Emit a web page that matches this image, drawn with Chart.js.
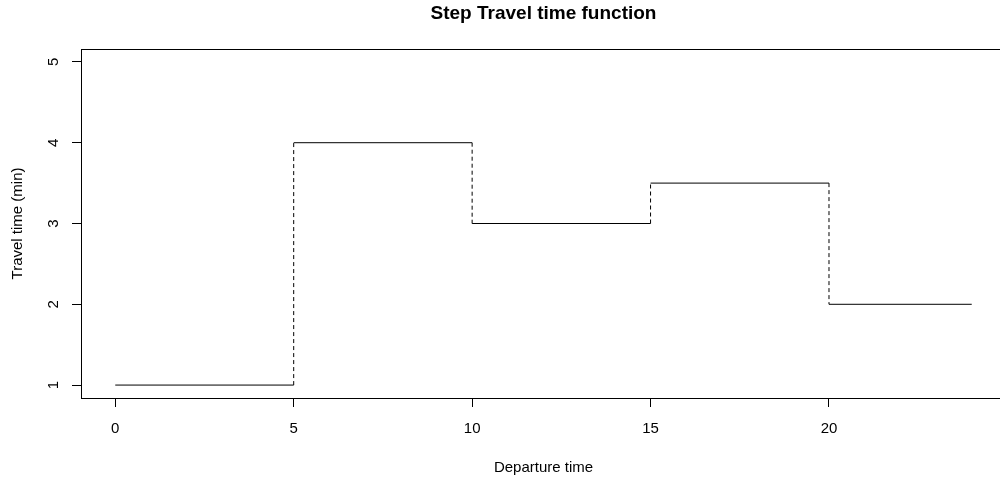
<!DOCTYPE html>
<html>
<head>
<meta charset="utf-8">
<script src="https://cdn.jsdelivr.net/npm/chart.js@4"></script>
<style>
    html, body { margin: 0; padding: 0; background: #fff; overflow: hidden; }
    #wrap { width: 1010px; height: 477px; }
</style>
</head>
<body>
<div id="wrap"><canvas id="stepChart" width="1010" height="477"></canvas></div>
<script>
// step function: value on [start, end)
const stepStarts = [0, 5, 10, 15, 20];
const stepEnds = [5, 10, 15, 20, 24];
const travelTimes = [1, 4, 3, 3.5, 2];

const xTicks = [0, 5, 10, 15, 20];
const yTicks = [1, 2, 3, 4, 5];

const FONT = "'Liberation Sans', Arial, sans-serif";

document.addEventListener('DOMContentLoaded', () => {
    // solid horizontal pieces, split by null gaps
    const flats = [];
    stepStarts.forEach((s, i) => {
        flats.push({ x: s, y: travelTimes[i] });
        flats.push({ x: stepEnds[i], y: travelTimes[i] });
        flats.push({ x: stepEnds[i], y: null });
    });
    // dashed vertical jumps
    const jumps = [];
    for (let i = 1; i < stepStarts.length; i++) {
        jumps.push({ x: stepStarts[i], y: travelTimes[i - 1] });
        jumps.push({ x: stepStarts[i], y: travelTimes[i] });
        jumps.push({ x: stepStarts[i], y: null });
    }

    // R style box round the plot region
    const boxPlugin = {
        id: 'box',
        afterDatasetsDraw(chart) {
            const a = chart.chartArea;
            const c = chart.ctx;
            c.save();
            c.strokeStyle = '#000';
            c.lineWidth = 1;
            c.strokeRect(Math.round(a.left) + 0.5, Math.round(a.top) + 0.5,
                Math.round(a.right - a.left), Math.round(a.bottom - a.top));
            c.restore();
        }
    };

    const ctx = document.getElementById('stepChart').getContext('2d');
    new Chart(ctx, {
        type: 'line',
        data: {
            datasets: [{
                data: flats,
                borderColor: '#000',
                borderWidth: 1,
                pointRadius: 0,
                fill: false,
                spanGaps: false
            }, {
                data: jumps,
                borderColor: '#000',
                borderWidth: 1,
                borderDash: [4, 3],
                pointRadius: 0,
                fill: false,
                spanGaps: false
            }]
        },
        options: {
            responsive: false,
            animation: false,
            layout: { padding: { left: 0, right: 4, top: 0, bottom: 0 } },
            plugins: {
                legend: { display: false },
                tooltip: { enabled: false },
                title: {
                    display: true,
                    fullSize: false,
                    text: 'Step Travel time function',
                    color: '#000',
                    font: { family: FONT, size: 19, weight: 'bold', lineHeight: 1.2 },
                    padding: { top: 2, bottom: 24.2 }
                }
            },
            scales: {
                x: {
                    type: 'linear',
                    min: -0.96,
                    max: 24.96,
                    afterBuildTicks: s => { s.ticks = xTicks.map(v => ({ value: v })); },
                    afterFit: s => { s.height = 79; },
                    border: { display: false },
                    grid: { drawOnChartArea: false, drawTicks: true, tickLength: 9, color: '#000' },
                    ticks: { color: '#000', padding: 13, maxRotation: 0, font: { family: FONT, size: 15 } },
                    title: {
                        display: true,
                        text: 'Departure time',
                        color: '#000',
                        font: { family: FONT, size: 15 },
                        padding: { top: 5, bottom: 0 }
                    }
                },
                y: {
                    type: 'linear',
                    min: 0.84,
                    max: 5.16,
                    afterBuildTicks: s => { s.ticks = yTicks.map(v => ({ value: v })); },
                    afterFit: s => { s.width = 81; },
                    border: { display: false },
                    grid: { drawOnChartArea: false, drawTicks: true, tickLength: 9, color: '#000' },
                    ticks: {
                        color: '#000', padding: 14, minRotation: 90, maxRotation: 90,
                        crossAlign: 'center', font: { family: FONT, size: 15 }
                    },
                    title: {
                        display: true,
                        text: 'Travel time (min)',
                        color: '#000',
                        font: { family: FONT, size: 15 },
                        padding: { top: 9, bottom: 0 }
                    }
                }
            }
        },
        plugins: [boxPlugin]
    });
});
</script>
</body>
</html>
